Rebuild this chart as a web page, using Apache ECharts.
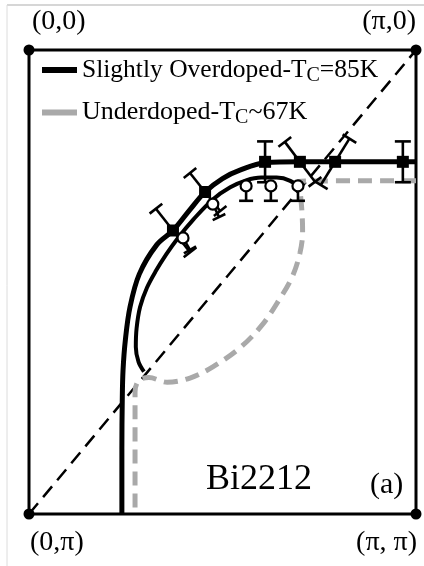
<!DOCTYPE html>
<html><head><meta charset="utf-8">
<script src="https://cdn.jsdelivr.net/npm/echarts@6/dist/echarts.min.js"></script>
<style>html,body{margin:0;padding:0;background:#fff}#c{width:424px;height:566px}</style>
</head><body><div id="c"></div>
<script>
// Coordinates in units of pi: kx from 0 (left) to 1 (right), ky from 0 (top) to 1 (bottom)
const overdopedCurve = [[0.240,1.000],[0.240,0.860],[0.241,0.754],[0.243,0.690],[0.249,0.625],[0.261,0.554],[0.285,0.483],[0.330,0.420],[0.372,0.389],[0.415,0.345],[0.455,0.306],[0.500,0.277],[0.545,0.259],[0.610,0.243],[0.700,0.241],[0.800,0.241],[1.000,0.241]];
const underdopedArc = [[0.297,0.693],[0.283,0.672],[0.276,0.640],[0.278,0.600],[0.287,0.554],[0.305,0.512],[0.328,0.476],[0.355,0.440],[0.385,0.405],[0.425,0.365],[0.475,0.322],[0.520,0.296],[0.561,0.281],[0.600,0.275],[0.640,0.275],[0.675,0.282],[0.703,0.300]];
const underdopedCurve = [[1.000,0.282],[0.850,0.282],[0.698,0.283],[0.705,0.345],[0.707,0.392],[0.700,0.438],[0.680,0.489],[0.646,0.539],[0.602,0.593],[0.545,0.642],[0.475,0.683],[0.416,0.707],[0.357,0.716],[0.310,0.706],[0.284,0.712],[0.274,0.737],[0.274,1.000]];
// markers: [kx, ky, errX, errY]; overdoped bars are symmetric, underdoped bars point inward
const overdopedPoints = [[0.372,0.389,-0.044,-0.047],[0.455,0.306,-0.039,-0.041],[0.610,0.241,0,-0.044],[0.700,0.241,-0.039,-0.043],[0.791,0.241,0.037,-0.050],[0.966,0.241,0,-0.044]];
const underdopedPoints = [[0.398,0.405,0.018,0.026],[0.475,0.332,0.016,0.028],[0.561,0.293,0,0.032],[0.625,0.293,0,0.032],[0.695,0.293,0,0.032]];
const diagonal = [[0,1],[1,0]];
const corners = [[0,0],[1,0],[0,1],[1,1]];
const cornerLabels = ['(0,0)','(π,0)','(0,π)','(π, π)'];
const seriesNames = ['Slightly Overdoped-Tc=85K','Underdoped-Tc~67K'];

const chart = echarts.init(document.getElementById('c'));
const serif = 'Liberation Serif';

function errRender(capHalf, symmetric){
  return function(params, api){
    const x = api.value(0), y = api.value(1), ex = api.value(2), ey = api.value(3);
    const p0 = symmetric ? api.coord([x-ex, y-ey]) : api.coord([x, y]);
    const p1 = api.coord([x+ex, y+ey]);
    const dx = p1[0]-p0[0], dy = p1[1]-p0[1];
    const L = Math.sqrt(dx*dx+dy*dy) || 1;
    const nx = -dy/L*capHalf, ny = dx/L*capHalf;
    const st = {stroke:'#000', lineWidth:2.6};
    const ch = [
      {type:'line', shape:{x1:p0[0],y1:p0[1],x2:p1[0],y2:p1[1]}, style:st},
      {type:'line', shape:{x1:p1[0]-nx,y1:p1[1]-ny,x2:p1[0]+nx,y2:p1[1]+ny}, style:st}
    ];
    if (symmetric) ch.push({type:'line', shape:{x1:p0[0]-nx,y1:p0[1]-ny,x2:p0[0]+nx,y2:p0[1]+ny}, style:st});
    return {type:'group', children:ch};
  };
}

const option = {
  animation:false,
  backgroundColor:'#fff',
  grid:{left:29, top:50, right:8, bottom:52, show:true, borderColor:'#000', borderWidth:3, backgroundColor:'transparent'},
  xAxis:{type:'value', min:0, max:1, show:false},
  yAxis:{type:'value', min:0, max:1, inverse:true, show:false},
  legend:{
    data:seriesNames, orient:'vertical', left:37, top:52, itemGap:14,
    icon:'rect', itemWidth:35, itemHeight:6,
    formatter:function(n){
      if(n===seriesNames[0]) return '{a|Slightly Overdoped-T}{s|C}{a|=85K}';
      return '{b|Underdoped-T}{s|C}{b|~67K}';
    },
    textStyle:{fontFamily:serif, color:'#000', rich:{
      a:{fontFamily:serif, fontSize:25.5, lineHeight:31, color:'#000'},
      b:{fontFamily:serif, fontSize:26, lineHeight:31, color:'#000'},
      s:{fontFamily:serif, fontSize:20, lineHeight:14, verticalAlign:'bottom', color:'#000'}
    }}
  },
  graphic:[
    {type:'line', shape:{x1:7,y1:5,x2:424,y2:5}, style:{stroke:'#c8c8c8', lineWidth:1.5}},
    {type:'line', shape:{x1:7,y1:5,x2:7,y2:566}, style:{stroke:'#dcdcdc', lineWidth:1}},
    {type:'text', left:32, top:8, style:{text:cornerLabels[0], font:'28px "Liberation Serif"', fill:'#000'}},
    {type:'text', right:8, top:8, style:{text:cornerLabels[1], font:'28px "Liberation Serif"', fill:'#000'}},
    {type:'text', left:30, top:529, style:{text:cornerLabels[2], font:'28px "Liberation Serif"', fill:'#000'}},
    {type:'text', right:7, top:529, style:{text:cornerLabels[3], font:'28px "Liberation Serif"', fill:'#000'}},
    {type:'text', left:206, top:462, style:{text:'Bi2212', font:'36px "Liberation Serif"', fill:'#000'}},
    {type:'text', left:370, top:470, style:{text:'(a)', font:'30px "Liberation Serif"', fill:'#000'}}
  ],
  series:[
    {type:'line', name:'diag', data:diagonal, showSymbol:false, silent:true, z:1,
     lineStyle:{color:'#000', width:2.5, type:[14,8]}},
    {type:'line', name:seriesNames[1], data:underdopedCurve, showSymbol:false, smooth:0.35, z:2,
     itemStyle:{color:'#a9a9a9'}, lineStyle:{color:'#a9a9a9', width:5, type:[14,8]}},
    {type:'line', name:seriesNames[0], data:overdopedCurve, showSymbol:false, smooth:0.35, z:3,
     itemStyle:{color:'#000'}, lineStyle:{color:'#000', width:5}},
    {type:'line', name:'arc', data:underdopedArc, showSymbol:false, smooth:0.35, z:3,
     lineStyle:{color:'#000', width:4}},
    {type:'custom', name:'errO', data:overdopedPoints, renderItem:errRender(8, true), z:4, encode:{x:0,y:1}},
    {type:'custom', name:'errU', data:underdopedPoints, renderItem:errRender(7, false), z:4, encode:{x:0,y:1}},
    {type:'scatter', name:'ptsO', data:overdopedPoints.map(p=>[p[0],p[1]]), symbol:'rect', symbolSize:12, z:5,
     itemStyle:{color:'#000', opacity:1}},
    {type:'scatter', name:'ptsU', data:underdopedPoints.map(p=>[p[0],p[1]]), symbol:'circle', symbolSize:11, z:5,
     itemStyle:{color:'#fff', borderColor:'#000', borderWidth:2.2, opacity:1}},
    {type:'scatter', name:'corners', data:corners, symbol:'circle', symbolSize:11, z:6, clip:false,
     itemStyle:{color:'#000', opacity:1}}
  ]
};
chart.setOption(option);
</script></body></html>
